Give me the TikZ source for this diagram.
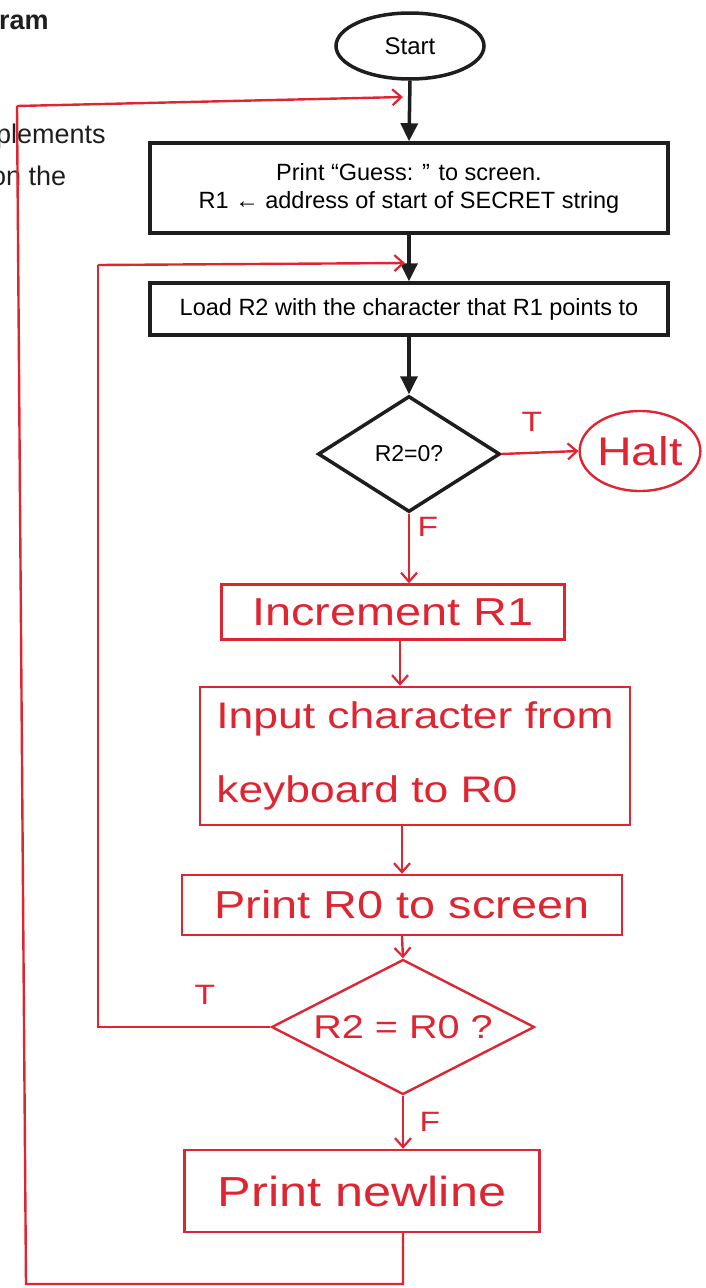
\documentclass[tikz,border=0pt]{standalone}
\usepackage{fontspec}
\setmainfont{Liberation Sans}
\newfontfamily\hand[FakeStretch=1.2]{Liberation Sans}
\usetikzlibrary{shapes.geometric,arrows.meta,calc}
\definecolor{pen}{RGB}{222,38,50}
\definecolor{ink}{RGB}{30,30,30}
\tikzset{
  bbox/.style={draw=ink,line width=3.5pt,rectangle,inner sep=0pt,font=\fontsize{23.5}{28}\selectfont,align=center},
  barrow/.style={draw=ink,line width=3.5pt,-{Triangle[width=17pt,length=18pt]}},
  rbox/.style={draw=pen,line width=2.4pt,rectangle,inner sep=0pt,text=pen,font=\hand\fontsize{39}{74}\selectfont,align=left},
  rline/.style={draw=pen,line width=2.4pt},
  rarrow/.style={rline,-{Straight Barb[length=9pt,width=16pt,line width=2.2pt]}},
  rlabel/.style={text=pen,font=\hand\fontsize{28}{30}\selectfont},
  pagetext/.style={text=ink,font=\fontsize{27}{30}\selectfont,anchor=west,inner sep=0pt}
}
\begin{document}
\begin{tikzpicture}[x=1pt,y=-1pt]
\useasboundingbox (0,0) rectangle (706,1288);
% page text (clipped at the left edge, as in the reference)
\node[pagetext,font=\fontsize{27}{30}\selectfont\bfseries] (t1) at (-1,22) {ram};
\node[pagetext] (t2) at (-4,137) {plements};
\node[pagetext] (t3) at (-9,176) {on the};
% typed flowchart
\node[draw=ink,line width=3.5pt,ellipse,minimum width=148pt,minimum height=66pt,inner sep=0pt,font=\fontsize{24}{28}\selectfont] (start) at (410,46) {Start};
\node[bbox,minimum width=518pt,minimum height=90pt] (b1) at (409,188) {Print “Guess: ” to screen.\\R1 ← address of start of SECRET string};
\node[bbox,minimum width=518pt,minimum height=52pt] (b2) at (409,309) {Load R2 with the character that R1 points to};
\node[draw=ink,line width=3.5pt,diamond,inner sep=0pt,minimum width=182pt,minimum height=116pt,font=\fontsize{23}{26}\selectfont] (d1) at (409,454) {R2=0?};
\draw[barrow] (start.south) -- (b1.north);
\draw[barrow] (b1.south) -- (b2.north);
\draw[barrow] (b2.south) -- (d1.north);
% handwritten additions
\node[draw=pen,line width=2.4pt,ellipse,minimum width=114pt,minimum height=80pt,text=pen,font=\hand\fontsize{40}{42}\selectfont,inner sep=0pt] (halt) at (640,451) {Halt};
\node[rbox,minimum width=343pt,minimum height=55pt] (inc) at (393,612) {Increment R1};
\node[rbox,minimum width=430pt,minimum height=138pt,font=\hand\fontsize{37}{74}\selectfont] (inp) at (415,756) {Input character from\\keyboard to R0};
\node[rbox,minimum width=440pt,minimum height=60pt] (prt) at (402,905) {Print R0 to screen};
\node[draw=pen,line width=2.4pt,diamond,inner sep=0pt,minimum width=263pt,minimum height=135pt,text=pen,font=\hand\fontsize{33}{36}\selectfont] (d2) at (403,1027) {\makebox[0pt]{R2 = R0 ?}};
\node[rbox,minimum width=355pt,minimum height=82pt,font=\hand\fontsize{42}{44}\selectfont] (nl) at (362,1191) {Print newline};
\coordinate (j1) at (403,97);
\coordinate (j2) at (405,263);
\coordinate (c1) at (26,1284);
\coordinate (c2) at (17,106);
\coordinate (c4) at (98,265);
% T branch to Halt
\draw[rarrow] (d1.east) -- (halt.west);
\node[rlabel] (lt1) at (532,422) {T};
% F branch
\draw[rarrow] (d1.south) -- (d1.south |- inc.north);
\node[rlabel] (lf1) at (428,527) {F};
\draw[rarrow] ([xshift=7pt]inc.south) -- ([xshift=7pt]inc.south |- inp.north);
\draw[rarrow] (prt.north |- inp.south) -- (prt.north);
\draw[rarrow] (prt.south) -- (d2.north);
% inner loop
\draw[rline] (d2.west) -| (c4);
\draw[rarrow] (c4) -- (j2);
\node[rlabel] (lt2) at (205,995) {T};
% F to newline
\draw[rarrow] (d2.south) -- (d2.south |- nl.north);
\node[rlabel] (lf2) at (430,1122) {F};
% outer loop
\draw[rline] (d2.south |- nl.south) |- (c1) -- (c2);
\draw[rarrow] (c2) -- (j1);
\end{tikzpicture}
\end{document}
